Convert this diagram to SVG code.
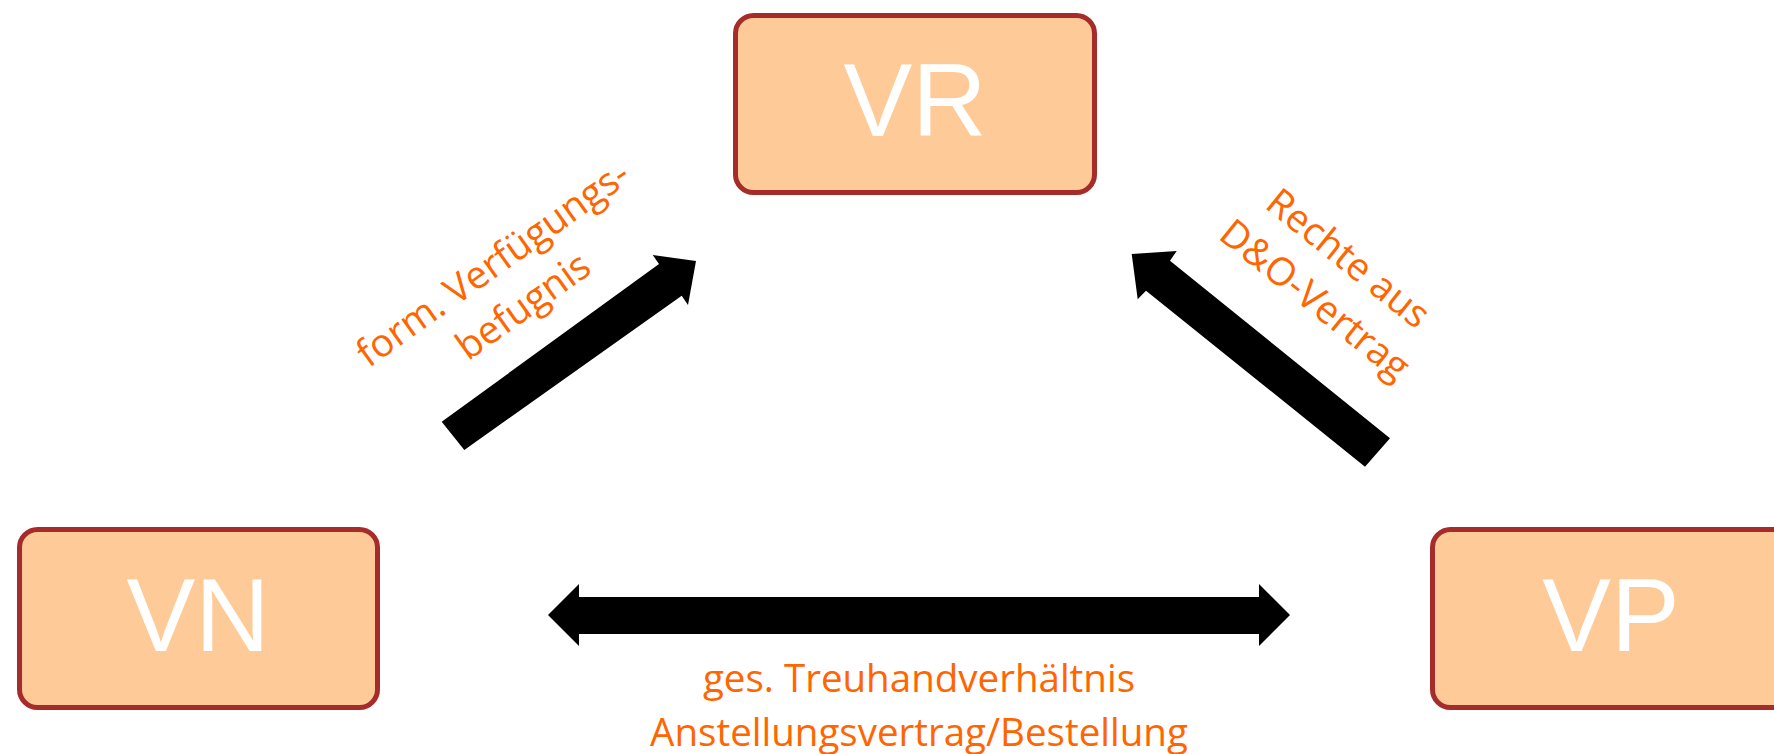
<svg xmlns="http://www.w3.org/2000/svg" width="1774" height="754" viewBox="0 0 1774 754">
<style>
.box{fill:#FECB98;stroke:#A62B2B;stroke-width:5}
.nt{font-family:"Liberation Sans",Arial,sans-serif;font-size:103px;fill:#FFFFFF;text-anchor:middle}
.lb{font-family:"Open Sans","Noto Sans",sans-serif;font-size:38.5px;fill:#FF6600;text-anchor:middle}
.arr{fill:#000000}
</style>
<rect width="1774" height="754" fill="#FFFFFF"/>
<g id="VR">
<rect class="box" x="735.5" y="15.5" width="359" height="177" rx="18"/>
<text class="nt" x="915" y="136">VR</text>
</g>
<g id="VN">
<rect class="box" x="19.5" y="529.5" width="358" height="178" rx="18"/>
<text class="nt" x="198" y="651">VN</text>
</g>
<g id="VP">
<rect class="box" x="1432.5" y="529.5" width="358" height="178" rx="18"/>
<text class="nt" x="1611" y="651">VP</text>
</g>
<g id="connectors">
<polygon class="arr" points="441.7,421.7 659,264 652.7,255 696,261 688,305 681.7,295.7 464.3,450"/>
<polygon class="arr" points="1390,438.3 1170,260.7 1176.7,251 1131.7,254 1137.7,299.3 1146,290.7 1365,466.7"/>
<polygon class="arr" points="548,615 579,584 579,597 1259,597 1259,584 1290,615 1259,646 1259,634 579,634 579,646"/>
<g transform="translate(500.5,274.3) rotate(-35.5)">
<text class="lb" x="0" y="0">form. Verfügungs-</text>
<text class="lb" x="0" y="52">befugnis</text>
</g>
<g transform="translate(1340,268.5) rotate(38.8)">
<text class="lb" x="0" y="0">Rechte aus</text>
<text class="lb" x="0" y="53">D&amp;O-Vertrag</text>
</g>
<text class="lb" x="919" y="692">ges. Treuhandverhältnis</text>
<text class="lb" x="919" y="746">Anstellungsvertrag/Bestellung</text>
</g>
</svg>
